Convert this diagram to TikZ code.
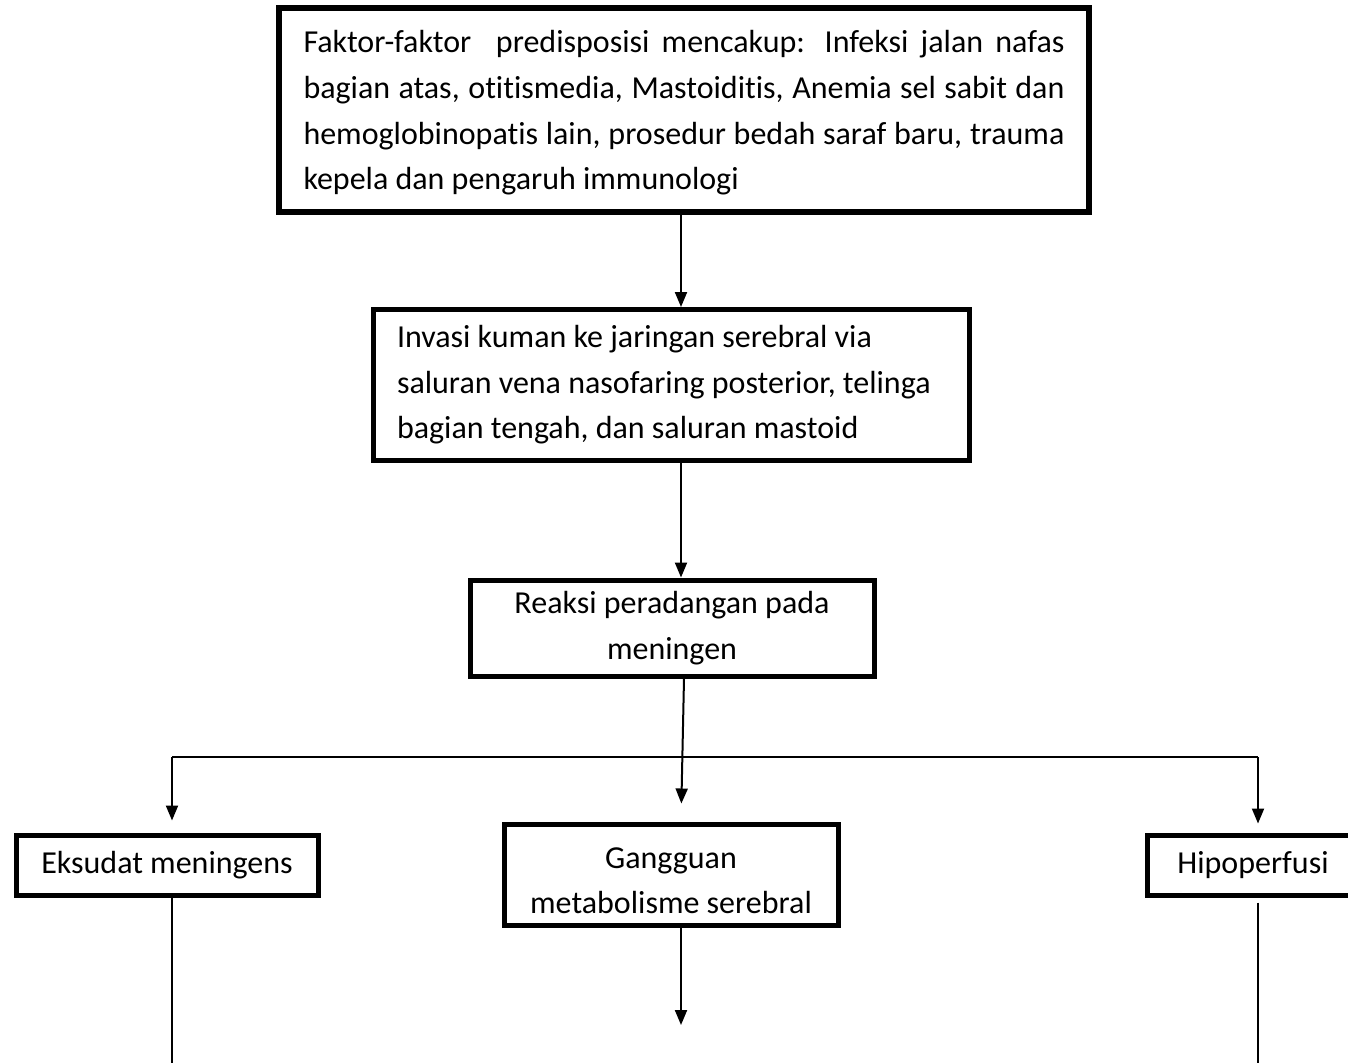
\documentclass[tikz,border=0pt]{standalone}
\usepackage{fontspec}
\setmainfont{Carlito}[Ligatures=NoCommon]
\usetikzlibrary{arrows.meta,positioning}
\hyphenpenalty=10000

\begin{document}
\begin{tikzpicture}[x=0.5pt,y=-0.5pt,>={Triangle[length=7.5pt,width=6pt]},
	box/.style={draw,line width=2.5pt,inner sep=0pt,font=\fontsize{16pt}{22.8pt}\selectfont},
	link/.style={line width=1pt}]
	\useasboundingbox (0,0) rectangle (1348,1062);
	\node[box,line width=3.25pt,minimum width=405pt,minimum height=102pt,text width=380.5pt,align=justify] (faktor) at (684,110) {\rule{0pt}{14pt}Faktor-faktor\ \ predisposisi mencakup: Infeksi jalan nafas\linebreak bagian atas, otitismedia, Mastoiditis, Anemia sel sabit dan\linebreak hemoglobinopatis lain, prosedur bedah saraf baru, trauma\linebreak kepela dan pengaruh immunologi};
	\node[box,minimum width=298pt,minimum height=75.5pt,text width=274.5pt,align=flush left] (invasi) at (671.5,385) {Invasi kuman ke jaringan serebral via\\saluran vena nasofaring posterior, telinga\\bagian tengah, dan saluran mastoid};
	\node[box,minimum width=202pt,minimum height=48pt,align=center] (reaksi) at (672,628) {Reaksi peradangan pada\\meningen};
	\node[box,minimum width=151pt,minimum height=30pt] (eksudat) at (167,865) {Eksudat meningens};
	\node[box,minimum width=167pt,minimum height=50.5pt,align=center] (gangguan) at (671,874.5) {\rule{0pt}{16.5pt}Gangguan\\metabolisme serebral};
	\node[box,minimum width=106pt,minimum height=30pt] (hipo) at (1253,865) {Hipoperfusi};

	\coordinate (spine) at (681,0);
	\coordinate (barL) at (172,757);
	\coordinate (barR) at (1258,757);
	\coordinate (endL) at (172,1066);
	\coordinate (endC) at (681,1025);
	\coordinate (endR) at (1258,1066);

	\draw[link,->] (faktor.south -| spine) -- (invasi.north -| spine);
	\draw[link,->] (invasi.south -| spine) -- (reaksi.north -| spine);
	\draw[link,->,shorten >=9pt] ([xshift=6pt]reaksi.south) -- (gangguan.north -| spine);
	\draw[link] (barL) -- (barR);
	\draw[link,->,shorten >=6pt] (barL) -- (barL |- eksudat.north);
	\draw[link,->,shorten >=4.5pt] (barR) -- (barR |- hipo.north);
	\draw[link] (eksudat.south -| barL) -- (endL);
	\draw[link,->] (gangguan.south -| spine) -- (endC);
	\draw[link,shorten <=2.5pt] (hipo.south -| barR) -- (endR);
\end{tikzpicture}
\end{document}
